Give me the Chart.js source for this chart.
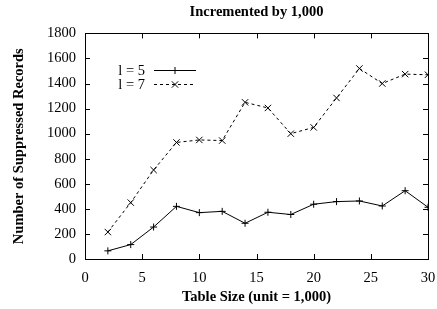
<!DOCTYPE html>
<html><head><meta charset="utf-8">
<script src="https://cdn.jsdelivr.net/npm/chart.js@4/dist/chart.umd.min.js"></script>
<style>html,body{margin:0;padding:0;background:#fff}#w{width:437px;height:309px}</style>
</head><body><div id="w"><canvas id="c"></canvas></div>
<script>
const tableSizes = [2,4,6,8,10,12,14,16,18,20,22,24,26,28,30];
const l5 = [65,115,255,420,370,380,285,373,355,437,458,463,423,545,413];
const l7 = [215,450,710,930,950,945,1250,1205,1000,1050,1285,1520,1400,1475,1470];
const seriesLabels = ['l = 5','l = 7'];
const titleText = 'Incremented by 1,000';
const xTitle = 'Table Size (unit = 1,000)';
const yTitle = 'Number of Suppressed Records';
const FONT = "'Liberation Serif','Times New Roman',serif";
const FS = 14.5;

const framePlugin = {
  id:'frame',
  afterDraw(chart){
    const ctx = chart.ctx, a = chart.chartArea;
    ctx.save();
    ctx.strokeStyle='#000'; ctx.lineWidth=1;
    ctx.strokeRect(Math.round(a.left)+0.5, Math.round(a.top)+0.5, Math.round(a.right-a.left), Math.round(a.bottom-a.top));
    const tl=5;
    ctx.beginPath();
    chart.scales.x.ticks.forEach(t=>{
      const px=Math.round(chart.scales.x.getPixelForValue(t.value))+0.5;
      ctx.moveTo(px,a.bottom); ctx.lineTo(px,a.bottom-tl);
      ctx.moveTo(px,a.top); ctx.lineTo(px,a.top+tl);
    });
    chart.scales.y.ticks.forEach(t=>{
      const py=Math.round(chart.scales.y.getPixelForValue(t.value))+0.5;
      ctx.moveTo(a.left,py); ctx.lineTo(a.left+tl,py);
      ctx.moveTo(a.right,py); ctx.lineTo(a.right-tl,py);
    });
    ctx.stroke();
    // legend
    ctx.font = FS+"px "+FONT; ctx.fillStyle='#000'; ctx.textAlign='right'; ctx.textBaseline='middle';
    chart.data.datasets.forEach((ds,i)=>{
      const y = a.top + 37 + i*14;
      const tx = a.left + 60;
      ctx.fillText(ds.label, tx, y+1);
      ctx.save();
      ctx.setLineDash(ds.borderDash||[]);
      ctx.beginPath(); ctx.moveTo(tx+9, Math.round(y)+0.5); ctx.lineTo(tx+51, Math.round(y)+0.5); ctx.stroke();
      ctx.restore();
      Chart.helpers.drawPoint(ctx, {pointStyle: ds.pointStyle, radius: ds.pointRadius, rotation:0, borderWidth:1}, tx+30, Math.round(y)+0.5);
    });
    ctx.restore();
  }
};

new Chart(document.getElementById('c'), {
  type:'line',
  data:{
    datasets:[
      {label:seriesLabels[0], data: tableSizes.map((x,i)=>({x, y:l5[i]})), borderColor:'#000', backgroundColor:'#000', borderWidth:1,
       pointStyle:'cross', pointRadius:3.5, pointBorderWidth:1, pointBorderColor:'#000', tension:0},
      {label:seriesLabels[1], data: tableSizes.map((x,i)=>({x, y:l7[i]})), borderColor:'#000', backgroundColor:'#000', borderWidth:1, borderDash:[3,3],
       pointStyle:'crossRot', pointRadius:4.5, pointBorderWidth:1, pointBorderColor:'#000', tension:0}
    ]
  },
  options:{
    responsive:true, maintainAspectRatio:false, animation:false,
    layout:{padding:{left:0,right:9,top:0,bottom:0}},
    plugins:{
      legend:{display:false}, tooltip:{enabled:false},
      title:{display:true, text:titleText, fullSize:false, color:'#000',
        font:{family:FONT, size:FS, weight:'bold', lineHeight:1.2}, padding:{top:4,bottom:12}}
    },
    scales:{
      x:{type:'linear', min:0, max:30,
        ticks:{stepSize:5, color:'#000', font:{family:FONT,size:FS}, padding:10, maxRotation:0,
          callback:v=>String(v)},
        grid:{display:false, drawTicks:false, tickLength:0}, border:{display:false},
        title:{display:true, text:xTitle, color:'#000', font:{family:FONT,size:FS,weight:'bold'}, padding:{top:0,bottom:3}},
        afterFit(s){ s.height = 50; s.paddingLeft = 0; s.paddingRight = 0; }
      },
      y:{type:'linear', min:0, max:1800,
        ticks:{stepSize:200, color:'#000', font:{family:FONT,size:FS}, padding:9,
          callback:v=>String(v)},
        grid:{display:false, drawTicks:false, tickLength:0}, border:{display:false},
        title:{display:true, text:yTitle, color:'#000', font:{family:FONT,size:FS,weight:'bold'}, padding:{top:11,bottom:0}},
        afterFit(s){ s.width = 85; s.paddingTop = 0; s.paddingBottom = 0; }
      }
    }
  },
  plugins:[framePlugin]
});
</script>
</body></html>
